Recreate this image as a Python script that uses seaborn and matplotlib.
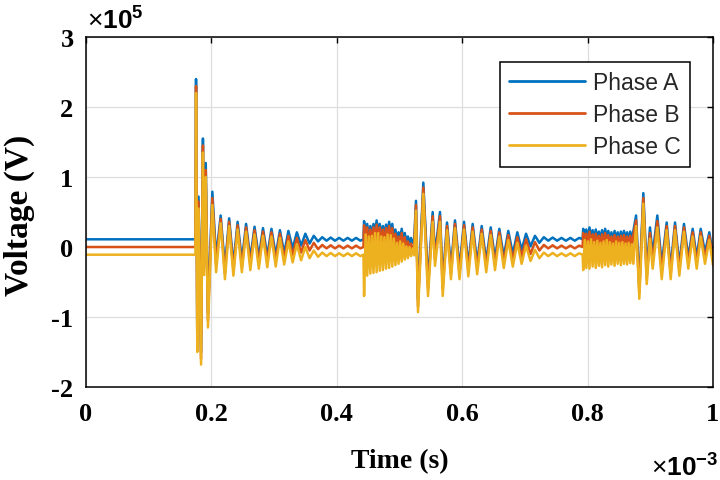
import matplotlib
matplotlib.use("Agg")
import numpy as np
import pandas as pd
import matplotlib.pyplot as plt
import seaborn as sns

# ---- data: time in ms (x 10^-3 s), voltage in units of 10^5 V ----
phases = ["Phase A", "Phase B", "Phase C"]
colors = ["#0072BD", "#D95319", "#EDB120"]

# steady state before the first event
t_pre = [0.000, 0.1745]
a_pre = [0.11, 0.11]
b_pre = [0.00, 0.00]
c_pre = [-0.11, -0.11]

# first switching spike
t_sp1 = [0.1755, 0.1775, 0.1795, 0.1835, 0.1865, 0.1885, 0.1910, 0.1945, 0.2015, 0.2075]
a_sp1 = [2.40, -1.30, 0.72, -1.50, 1.55, -0.20, 1.20, -0.95, 0.79, -0.15]
b_sp1 = [2.30, -1.40, 0.65, -1.60, 1.45, -0.30, 1.10, -1.05, 0.70, -0.25]
c_sp1 = [2.20, -1.50, 0.55, -1.68, 1.35, -0.40, 1.00, -1.15, 0.60, -0.36]

# damped oscillation after first spike
t_dm1 = [0.2148, 0.2216, 0.2283, 0.2351, 0.2418, 0.2486, 0.2553, 0.2621,
         0.2688, 0.2756, 0.2823, 0.2891, 0.2958, 0.3026, 0.3093, 0.3161,
         0.3228, 0.3296, 0.3363, 0.3431, 0.3498, 0.3566, 0.3633, 0.3701]
a_dm1 = [0.45, -0.30, 0.41, -0.25, 0.36, -0.20, 0.33, -0.17, 0.29, -0.15, 0.27, -0.13,
         0.26, -0.12, 0.24, -0.09, 0.23, -0.02, 0.21, 0.02, 0.19, 0.05, 0.16, 0.08]
b_dm1 = [0.40, -0.38, 0.36, -0.33, 0.31, -0.28, 0.28, -0.25, 0.24, -0.23, 0.22, -0.21,
         0.21, -0.20, 0.19, -0.17, 0.16, -0.12, 0.13, -0.08, 0.10, -0.05, 0.06, -0.03]
c_dm1 = [0.34, -0.46, 0.30, -0.41, 0.25, -0.36, 0.22, -0.33, 0.18, -0.31, 0.16, -0.29,
         0.15, -0.28, 0.13, -0.25, 0.08, -0.22, 0.04, -0.19, 0.00, -0.16, -0.05, -0.14]

# small ripple
t_rp1 = [0.3768, 0.3836, 0.3903, 0.3971, 0.4038, 0.4106, 0.4173, 0.4241, 0.4308, 0.4376, 0.4425]
a_rp1 = [0.14, 0.09, 0.135, 0.09, 0.13, 0.09, 0.13, 0.09, 0.13, 0.09, 0.11]
b_rp1 = [0.03, -0.02, 0.025, -0.02, 0.02, -0.02, 0.02, -0.02, 0.02, -0.02, 0.00]
c_rp1 = [-0.08, -0.13, -0.085, -0.13, -0.09, -0.13, -0.09, -0.13, -0.09, -0.13, -0.11]

# high-frequency burst 1
t_bs1 = [0.4435, 0.4460, 0.4485, 0.4510, 0.4535, 0.4560, 0.4585, 0.4610, 0.4635, 0.4660,
         0.4685, 0.4710, 0.4735, 0.4760, 0.4785, 0.4810, 0.4835, 0.4860, 0.4885, 0.4910,
         0.4935, 0.4960, 0.4985, 0.5010, 0.5035, 0.5060, 0.5085, 0.5110, 0.5135, 0.5160,
         0.5185, 0.5210, 0.5235]
a_bs1 = [0.37, 0.18, 0.33, 0.15, 0.30, 0.16, 0.33, 0.20, 0.38, 0.22, 0.33, 0.17, 0.30, 0.16,
         0.32, 0.20, 0.36, 0.21, 0.33, 0.15, 0.25, 0.10, 0.21, 0.12, 0.26, 0.10, 0.20, 0.06,
         0.15, 0.05, 0.13, 0.06, 0.11]
b_bs1 = [0.31, 0.02, 0.28, -0.02, 0.25, 0.00, 0.28, 0.03, 0.32, 0.04, 0.28, 0.00, 0.25, -0.01,
         0.27, 0.02, 0.30, 0.03, 0.27, -0.02, 0.19, -0.05, 0.15, -0.03, 0.20, -0.05, 0.14, -0.07,
         0.08, -0.07, 0.05, -0.05, 0.02]
c_bs1 = [-0.70, 0.18, -0.41, 0.15, -0.38, 0.16, -0.37, 0.20, -0.36, 0.20, -0.34, 0.15, -0.33,
         0.14, -0.31, 0.18, -0.30, 0.17, -0.28, 0.12, -0.26, 0.06, -0.24, 0.08, -0.21, 0.05,
         -0.18, 0.01, -0.16, 0.00, -0.13, -0.02, -0.12]

# second switching spike
t_sp2 = [0.5263, 0.5295, 0.5380, 0.5455, 0.5529, 0.5566, 0.5646, 0.5689]
a_sp2 = [0.66, -0.75, 0.92, -0.50, 0.50, -0.10, 0.50, -0.50]
b_sp2 = [0.60, -0.85, 0.85, -0.60, 0.44, -0.18, 0.44, -0.60]
c_sp2 = [0.52, -0.93, 0.76, -0.70, 0.36, -0.27, 0.36, -0.70]

# damped oscillation 2
t_dm2 = [0.5758, 0.5821, 0.5885, 0.5957, 0.6029, 0.6098, 0.6167, 0.6239, 0.6311, 0.6383, 0.6455,
         0.6523, 0.6592, 0.6663, 0.6735, 0.6807, 0.6879, 0.6948, 0.7018, 0.7090, 0.7161, 0.7231]
a_dm2 = [0.35, -0.30, 0.38, -0.30, 0.36, -0.26, 0.33, -0.23, 0.30, -0.20, 0.28, -0.17, 0.26,
         -0.14, 0.23, -0.10, 0.21, -0.04, 0.19, 0.01, 0.16, 0.06]
b_dm2 = [0.30, -0.38, 0.33, -0.38, 0.31, -0.34, 0.28, -0.31, 0.25, -0.28, 0.23, -0.25, 0.21,
         -0.22, 0.17, -0.19, 0.14, -0.14, 0.11, -0.10, 0.07, -0.05]
c_dm2 = [0.24, -0.46, 0.27, -0.46, 0.25, -0.42, 0.22, -0.39, 0.19, -0.36, 0.17, -0.33, 0.15,
         -0.30, 0.10, -0.28, 0.06, -0.24, 0.02, -0.20, -0.04, -0.16]

# ripple 2
t_rp2 = [0.7302, 0.7372, 0.7443, 0.7513, 0.7584, 0.7654, 0.7725, 0.7795, 0.7866, 0.7920]
a_rp2 = [0.14, 0.09, 0.135, 0.09, 0.13, 0.09, 0.13, 0.09, 0.13, 0.11]
b_rp2 = [0.03, -0.02, 0.025, -0.02, 0.02, -0.02, 0.02, -0.02, 0.02, 0.00]
c_rp2 = [-0.08, -0.13, -0.085, -0.13, -0.09, -0.13, -0.09, -0.13, -0.09, -0.11]

# high-frequency burst 2
t_bs2 = [0.7930, 0.7955, 0.7980, 0.8005, 0.8030, 0.8055, 0.8080, 0.8105, 0.8130, 0.8155,
         0.8180, 0.8205, 0.8230, 0.8255, 0.8280, 0.8305, 0.8330, 0.8355, 0.8380, 0.8405,
         0.8430, 0.8455, 0.8480, 0.8505, 0.8530, 0.8555, 0.8580, 0.8605, 0.8630, 0.8655,
         0.8680, 0.8705, 0.8730]
a_bs2 = [0.26, 0.12, 0.25, 0.10, 0.28, 0.14, 0.24, 0.10, 0.25, 0.12, 0.22, 0.09, 0.24, 0.11,
         0.26, 0.13, 0.23, 0.10, 0.21, 0.08, 0.23, 0.11, 0.21, 0.09, 0.22, 0.10, 0.23, 0.11,
         0.21, 0.09, 0.22, 0.10, 0.23]
b_bs2 = [0.20, 0.00, 0.19, -0.02, 0.22, 0.02, 0.18, -0.02, 0.19, 0.00, 0.16, -0.03, 0.18, -0.01,
         0.20, 0.01, 0.17, -0.02, 0.15, -0.04, 0.17, -0.01, 0.15, -0.03, 0.16, -0.02, 0.17, -0.01,
         0.15, -0.03, 0.16, -0.02, 0.17]
c_bs2 = [-0.33, 0.10, -0.30, 0.08, -0.31, 0.11, -0.28, 0.07, -0.30, 0.09, -0.27, 0.06, -0.29,
         0.08, -0.26, 0.10, -0.28, 0.07, -0.25, 0.05, -0.27, 0.08, -0.24, 0.06, -0.26, 0.07,
         -0.24, 0.05, -0.25, 0.06, -0.23, 0.04, -0.24]

# third switching spike
t_sp3 = [0.8773, 0.8825, 0.8889, 0.8943, 0.8995, 0.9038, 0.9112, 0.9182]
a_sp3 = [0.45, -0.55, 0.77, -0.35, 0.28, -0.10, 0.45, -0.25]
b_sp3 = [0.38, -0.65, 0.70, -0.45, 0.20, -0.20, 0.37, -0.35]
c_sp3 = [0.30, -0.74, 0.62, -0.53, 0.12, -0.31, 0.28, -0.46]

# damped oscillation 3
t_dm3 = [0.9261, 0.9325, 0.9394, 0.9463, 0.9537, 0.9606, 0.9676, 0.9740, 0.9804, 0.9872, 0.9941, 1.0000]
a_dm3 = [0.35, -0.30, 0.35, -0.25, 0.33, -0.15, 0.26, -0.15, 0.26, -0.08, 0.21, -0.10]
b_dm3 = [0.30, -0.38, 0.30, -0.33, 0.28, -0.23, 0.21, -0.23, 0.21, -0.16, 0.16, -0.18]
c_dm3 = [0.24, -0.46, 0.24, -0.41, 0.22, -0.31, 0.15, -0.31, 0.15, -0.24, 0.10, -0.26]

x_ticks = [0, 0.2, 0.4, 0.6, 0.8, 1.0]
x_tick_labels = ["0", "0.2", "0.4", "0.6", "0.8", "1"]
y_ticks = [-2, -1, 0, 1, 2, 3]
y_tick_labels = ["-2", "-1", "0", "1", "2", "3"]

# ---- assemble long-form table ----
t_all = t_pre + t_sp1 + t_dm1 + t_rp1 + t_bs1 + t_sp2 + t_dm2 + t_rp2 + t_bs2 + t_sp3 + t_dm3
a_all = a_pre + a_sp1 + a_dm1 + a_rp1 + a_bs1 + a_sp2 + a_dm2 + a_rp2 + a_bs2 + a_sp3 + a_dm3
b_all = b_pre + b_sp1 + b_dm1 + b_rp1 + b_bs1 + b_sp2 + b_dm2 + b_rp2 + b_bs2 + b_sp3 + b_dm3
c_all = c_pre + c_sp1 + c_dm1 + c_rp1 + c_bs1 + c_sp2 + c_dm2 + c_rp2 + c_bs2 + c_sp3 + c_dm3

frames = []
for name, vals in zip(phases, [a_all, b_all, c_all]):
    frames.append(pd.DataFrame({"time": t_all, "voltage": vals, "phase": name}))
df = pd.concat(frames, ignore_index=True)

# ---- plotting ----
sns.set_theme(style="white")
plt.rcParams["axes.unicode_minus"] = False
plt.rcParams["font.family"] = ["Liberation Serif", "DejaVu Serif"]
plt.rcParams["mathtext.fontset"] = "custom"
plt.rcParams["mathtext.rm"] = "Liberation Sans"
plt.rcParams["mathtext.bf"] = "Liberation Sans:bold"

fig = plt.figure(figsize=(7.2, 4.81), dpi=100)
ax = fig.add_axes([86 / 720, 1 - 388 / 481, 627 / 720, 350 / 481])

sns.lineplot(data=df, x="time", y="voltage", hue="phase", hue_order=phases,
             palette=colors, estimator=None, sort=False, linewidth=1.8, ax=ax)

ax.set_xlim(0, 1)
ax.set_ylim(-2, 3)
ax.set_xticks(x_ticks)
ax.set_xticklabels(x_tick_labels)
ax.set_yticks(y_ticks)
ax.set_yticklabels(y_tick_labels)
ax.grid(True, color="#dedede", linewidth=0.9)
ax.set_axisbelow(True)
for s in ax.spines.values():
    s.set_color("black")
    s.set_linewidth(1.1)
ax.tick_params(direction="in", length=4, width=1.0, top=True, right=True,
               colors="black", labelsize=19)
ax.tick_params(axis="x", pad=11)
ax.tick_params(axis="y", pad=9)
for lab in ax.get_xticklabels() + ax.get_yticklabels():
    lab.set_fontweight("bold")

ax.set_xlabel("Time (s)", fontsize=20, fontweight="bold", color="black")
ax.set_ylabel("Voltage (V)", fontsize=24, fontweight="bold", color="black")
ax.xaxis.set_label_coords(0.5, (388 - 462) / 350)
ax.xaxis.label.set_va("center")
ax.yaxis.set_label_coords((19 - 86) / 627, (388 - 215) / 350)
ax.yaxis.label.set_va("center")

ax.text(0.002, (388 - 30) / 350, "\u00d7$\\mathbf{10^{5}}$", transform=ax.transAxes,
        ha="left", va="baseline", fontsize=19, family="Liberation Sans", color="black")
ax.text((718 - 86) / 627, (388 - 477) / 350, "\u00d7$\\mathbf{10^{-3}}$", transform=ax.transAxes,
        ha="right", va="baseline", fontsize=19, family="Liberation Sans", color="black")

handles, labels = ax.get_legend_handles_labels()
leg = ax.legend(handles, labels, loc="upper right",
                bbox_to_anchor=((690 - 86) / 627, (388 - 63) / 350), borderaxespad=0,
                frameon=True, fancybox=False, edgecolor="black", framealpha=1,
                prop={"family": "Liberation Sans", "size": 16.5},
                handlelength=3.3, labelspacing=0.38, borderpad=0.4, handletextpad=0.35)
leg.get_frame().set_linewidth(1.1)
for line in leg.get_lines():
    line.set_linewidth(2.0)

fig.savefig("out.png", dpi=100)
